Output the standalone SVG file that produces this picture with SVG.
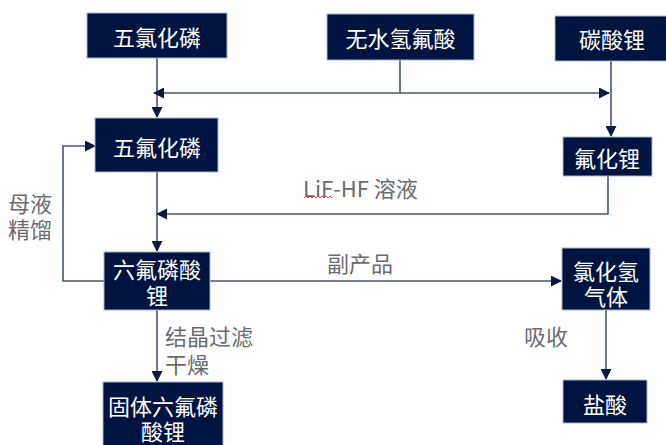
<svg xmlns="http://www.w3.org/2000/svg" width="666" height="445" viewBox="0 0 666 445">
<style>
.box{fill:#001442;stroke:#a9b3c9;stroke-width:1}
.bt{font-family:"Noto Sans CJK SC","Noto Sans",sans-serif;font-size:22px;fill:#ffffff;text-anchor:middle;dominant-baseline:central}
.lb{font-family:"Noto Sans CJK SC","Noto Sans",sans-serif;font-size:22px;fill:#686b70;dominant-baseline:central}
.c{fill:none;stroke:#475779;stroke-width:1.6}
</style>
<defs>
<marker id="ah" markerUnits="userSpaceOnUse" markerWidth="11" markerHeight="11" viewBox="0 0 11 11" refX="10" refY="5.5" orient="auto">
<path d="M0,0 L11,5.5 L0,11 Z" fill="#0b1a42"/>
</marker>
</defs>
<rect width="666" height="445" fill="#ffffff"/>
<g id="connectors">
<path class="c" d="M157,58 V117" marker-end="url(#ah)"/>
<path class="c" d="M400,60 V93 H154" marker-end="url(#ah)"/>
<path class="c" d="M400,93 H609" marker-end="url(#ah)"/>
<path class="c" d="M611,61 V136" marker-end="url(#ah)"/>
<path class="c" d="M157,172 V251" marker-end="url(#ah)"/>
<path class="c" d="M608,176 V214 H157" marker-end="url(#ah)"/>
<path class="c" d="M104,281 H63 V146 H95" marker-end="url(#ah)"/>
<path class="c" d="M210,281 H561" marker-end="url(#ah)"/>
<path class="c" d="M157,310 V381" marker-end="url(#ah)"/>
<path class="c" d="M606,310 V379" marker-end="url(#ah)"/>
</g>
<g id="labels">
<text class="lb" text-anchor="middle"><tspan x="30" y="202">母液</tspan><tspan x="30" y="228">精馏</tspan></text>
<text class="lb" x="303" y="187">LiF-HF 溶液</text>
<path d="M304,198 l2,-2 l2,2 l2,-2 l2,2 l2,-2 l2,2 l2,-2 l2,2 l2,-2 l2,2 l2,-2 l2,2 l2,-2 l2,2" fill="none" stroke="#e03030" stroke-width="0.9"/>
<text class="lb" x="360" y="262" text-anchor="middle">副产品</text>
<text class="lb"><tspan x="165" y="335">结晶过滤</tspan><tspan x="165" y="363">干燥</tspan></text>
<text class="lb" x="524" y="335">吸收</text>
</g>
<g id="n1"><rect class="box" x="87" y="13" width="140" height="45"/><text class="bt" x="157" y="36">五氯化磷</text></g>
<g id="n2"><rect class="box" x="327" y="14" width="147" height="46"/><text class="bt" x="400.5" y="37">无水氢氟酸</text></g>
<g id="n3"><rect class="box" x="555" y="16" width="114" height="45"/><text class="bt" x="612" y="38">碳酸锂</text></g>
<g id="n4"><rect class="box" x="95" y="118" width="123" height="54"/><text class="bt" x="157" y="146">五氟化磷</text></g>
<g id="n5"><rect class="box" x="563" y="137" width="89" height="39"/><text class="bt" x="607" y="157">氟化锂</text></g>
<g id="n6"><rect class="box" x="104" y="252" width="106" height="58"/><text class="bt"><tspan x="157" y="268">六氟磷酸</tspan><tspan x="157" y="294">锂</tspan></text></g>
<g id="n7"><rect class="box" x="562" y="248" width="88" height="62"/><text class="bt"><tspan x="606" y="270">氯化氢</tspan><tspan x="606" y="295">气体</tspan></text></g>
<g id="n8"><rect class="box" x="103" y="382" width="120" height="70"/><text class="bt"><tspan x="163" y="405">固体六氟磷</tspan><tspan x="163" y="430">酸锂</tspan></text></g>
<g id="n9"><rect class="box" x="563" y="380" width="84" height="43"/><text class="bt" x="605" y="403">盐酸</text></g>
</svg>
